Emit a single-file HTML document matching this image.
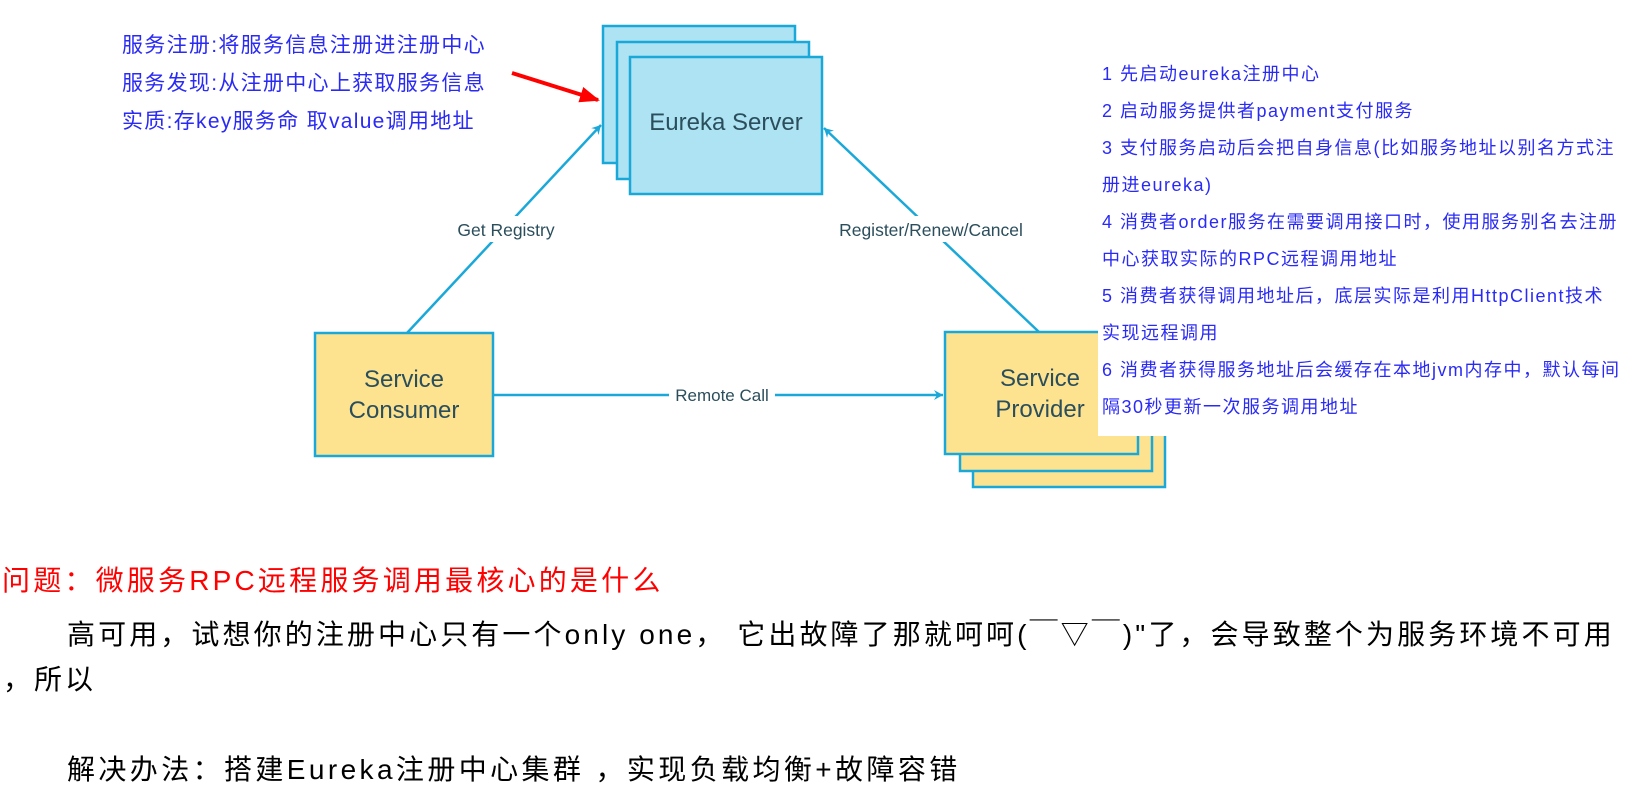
<!DOCTYPE html>
<html><head><meta charset="utf-8"><style>
html,body{margin:0;padding:0;background:#fff;}
body{width:1633px;height:790px;overflow:hidden;position:relative;}
svg{position:absolute;left:0;top:0;}
.t{font-family:"Liberation Sans","Noto Sans CJK SC",sans-serif;}
.b{position:absolute;white-space:nowrap;font-family:"Liberation Sans","Noto Sans CJK SC",sans-serif;}
</style></head><body>
<svg width="1633" height="790" viewBox="0 0 1633 790">
<defs>
<marker id="ab" markerWidth="12" markerHeight="12" refX="10" refY="6" orient="auto" markerUnits="userSpaceOnUse">
<path d="M1,1 L10,6 L1,11 L4,6 Z" fill="#1aa8d9"/></marker>
<marker id="ar" markerWidth="22" markerHeight="20" refX="18" refY="10" orient="auto" markerUnits="userSpaceOnUse">
<path d="M0,2 L20,10 L0,18 Z" fill="#f00"/></marker>
</defs>
<rect x="603" y="26" width="192" height="137" fill="#ade3f3" stroke="#1aa8d9" stroke-width="2.5"/>
<rect x="617" y="42" width="192" height="137" fill="#ade3f3" stroke="#1aa8d9" stroke-width="2.5"/>
<rect x="630" y="57" width="192" height="137" fill="#ade3f3" stroke="#1aa8d9" stroke-width="2.5"/>
<text x="726" y="130" class="t" font-size="24" fill="#2b4e5c" text-anchor="middle">Eureka Server</text>
<rect x="973" y="360" width="192" height="127" fill="#fde38f" stroke="#1aa8d9" stroke-width="2.5"/>
<rect x="960" y="346" width="192" height="125" fill="#fde38f" stroke="#1aa8d9" stroke-width="2.5"/>
<rect x="945" y="332" width="193" height="122" fill="#fde38f" stroke="#1aa8d9" stroke-width="2.5"/>
<text x="1040" y="386" class="t" font-size="24" fill="#2b4e5c" text-anchor="middle">Service</text>
<text x="1040" y="417" class="t" font-size="24" fill="#2b4e5c" text-anchor="middle">Provider</text>
<rect x="315" y="333" width="178" height="123" fill="#fde38f" stroke="#1aa8d9" stroke-width="2.5"/>
<text x="404" y="387" class="t" font-size="24" fill="#2b4e5c" text-anchor="middle">Service</text>
<text x="404" y="418" class="t" font-size="24" fill="#2b4e5c" text-anchor="middle">Consumer</text>
<line x1="407" y1="333" x2="601" y2="125" stroke="#1aa8d9" stroke-width="2.5" marker-end="url(#ab)"/>
<rect x="448" y="216" width="116" height="26" fill="#fff"/>
<text x="506" y="236" class="t" font-size="17.5" fill="#2b4e5c" text-anchor="middle">Get Registry</text>
<line x1="1039" y1="332" x2="824" y2="128" stroke="#1aa8d9" stroke-width="2.5" marker-end="url(#ab)"/>
<rect x="830" y="216" width="202" height="26" fill="#fff"/>
<text x="931" y="236" class="t" font-size="17.5" fill="#2b4e5c" text-anchor="middle">Register/Renew/Cancel</text>
<line x1="494" y1="395" x2="943" y2="395" stroke="#1aa8d9" stroke-width="2.5" marker-end="url(#ab)"/>
<rect x="669" y="384" width="106" height="22" fill="#fff"/>
<text x="722" y="401" class="t" font-size="17" fill="#2b4e5c" text-anchor="middle">Remote Call</text>
<line x1="512" y1="73" x2="598" y2="100" stroke="#f00" stroke-width="4" marker-end="url(#ar)"/>
<rect x="1098" y="52" width="535" height="384" fill="#fff"/>
</svg>
<div class="b" style="left:122px;top:27px;font-size:21px;line-height:38px;color:#2a2af5;letter-spacing:1.3px;">服务注册:将服务信息注册进注册中心<br>服务发现:从注册中心上获取服务信息<br>实质:存key服务命 取value调用地址</div>
<div class="b" style="left:1102px;top:56px;font-size:18px;line-height:37px;color:#2a2af5;letter-spacing:1.5px;">1 先启动eureka注册中心<br>2 启动服务提供者payment支付服务<br>3 支付服务启动后会把自身信息(比如服务地址以别名方式注<br>册进eureka)<br>4 消费者order服务在需要调用接口时，使用服务别名去注册<br>中心获取实际的RPC远程调用地址<br>5 消费者获得调用地址后，底层实际是利用HttpClient技术<br>实现远程调用<br>6 消费者获得服务地址后会缓存在本地jvm内存中，默认每间<br>隔30秒更新一次服务调用地址</div>
<div class="b" style="left:2px;top:563px;font-size:28px;line-height:36px;color:#f00;letter-spacing:3.2px;">问题：微服务RPC远程服务调用最核心的是什么</div>
<div class="b" style="left:67px;top:617px;font-size:28px;line-height:36px;color:#000;letter-spacing:3.1px;">高可用，试想你的注册中心只有一个only one， 它出故障了那就呵呵(￣▽￣)"了，会导致整个为服务环境不可用</div>
<div class="b" style="left:3px;top:662px;font-size:28px;line-height:36px;color:#000;letter-spacing:3px;">，所以</div>
<div class="b" style="left:67px;top:752px;font-size:28px;line-height:36px;color:#000;letter-spacing:3.4px;">解决办法：搭建Eureka注册中心集群 ，实现负载均衡+故障容错</div>
</body></html>
